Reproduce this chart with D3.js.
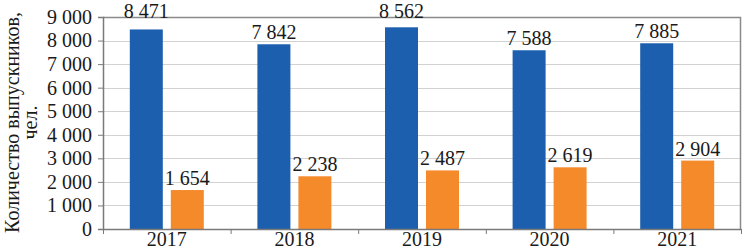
<!DOCTYPE html>
<html>
<head>
<meta charset="utf-8">
<script src="https://cdn.jsdelivr.net/npm/d3@7"></script>
<style>
  html, body { margin: 0; padding: 0; background: #ffffff; }
  svg text { font-family: "Liberation Serif", "Times New Roman", "DejaVu Serif", serif; fill: #1a1a1a; }
</style>
</head>
<body>
<div id="chart"></div>
<script>
// Data
var years = ["2017", "2018", "2019", "2020", "2021"];
var seriesA = [8471, 7842, 8562, 7588, 7885];
var seriesB = [1654, 2238, 2487, 2619, 2904];
var yTicks = [0, 1000, 2000, 3000, 4000, 5000, 6000, 7000, 8000, 9000];

var width = 744, height = 251;
var margin = { top: 17, right: 2, bottom: 22, left: 103 };
var fontSize = '20px';
var serif = '"Liberation Serif", "Times New Roman", serif';

var svg = d3.select('#chart').append('svg')
    .attr('width', width)
    .attr('height', height);

var x = d3.scaleBand()
    .domain(years)
    .range([margin.left, width - margin.right - 1])
    .paddingInner(0)
    .paddingOuter(0);

var y = d3.scaleLinear()
    .domain([0, 9000])
    .range([height - margin.bottom, margin.top]);

var fmt = function(v) { return d3.format(',')(v).replace(/,/g, ' '); };

// Gridlines
svg.append('g').selectAll('line')
    .data(yTicks.filter(function(d) { return d > 0 && d < 9000; }))
    .enter().append('line')
    .attr('x1', margin.left).attr('x2', x.range()[1])
    .attr('y1', function(d) { return Math.round(y(d)) + 0.5; })
    .attr('y2', function(d) { return Math.round(y(d)) + 0.5; })
    .attr('stroke', '#d2d2d2')
    .attr('stroke-width', 1);

// Plot border top & right
svg.append('path')
    .attr('d', 'M' + margin.left + ',' + (Math.round(y(9000)) + 0.5) +
               'H' + (x.range()[1] - 0.5) + 'V' + y(0))
    .attr('fill', 'none')
    .attr('stroke', '#8a8a8a')
    .attr('stroke-width', 1.5);

// Bars
var barW = 33, gap = 8;
var groups = svg.append('g').selectAll('g')
    .data(years)
    .enter().append('g')
    .attr('transform', function(d) { return 'translate(' + x(d) + ',0)'; });

var offset = (x.bandwidth() - (barW * 2 + gap)) / 2;

groups.append('rect')
    .attr('x', offset)
    .attr('width', barW)
    .attr('y', function(d, i) { return y(seriesA[i]); })
    .attr('height', function(d, i) { return y(0) - y(seriesA[i]); })
    .attr('fill', '#1c5fae');

groups.append('rect')
    .attr('x', offset + barW + gap)
    .attr('width', barW)
    .attr('y', function(d, i) { return y(seriesB[i]); })
    .attr('height', function(d, i) { return y(0) - y(seriesB[i]); })
    .attr('fill', '#f58a2b');

// label baseline: just above bar, lifted over the top border if it would collide
function labelY(v) {
    var b = y(v) - 5;
    if (b - 13 < y(9000) + 2) b = 18;
    return b;
}

groups.append('text')
    .attr('x', offset + barW / 2)
    .attr('y', function(d, i) { return labelY(seriesA[i]); })
    .attr('text-anchor', 'middle')
    .style('font-size', fontSize)
    .text(function(d, i) { return fmt(seriesA[i]); });

groups.append('text')
    .attr('x', offset + barW + gap + barW / 2)
    .attr('y', function(d, i) { return labelY(seriesB[i]); })
    .attr('text-anchor', 'middle')
    .style('font-size', fontSize)
    .text(function(d, i) { return fmt(seriesB[i]); });

// Y axis
var yAxis = svg.append('g')
    .attr('transform', 'translate(' + margin.left + ',0)')
    .call(d3.axisLeft(y).tickValues(yTicks).tickSize(5).tickPadding(6).tickFormat(fmt));
yAxis.select('.domain').attr('stroke', '#7a7a7a').attr('stroke-width', 1.5);
yAxis.selectAll('.tick line').attr('stroke', '#7a7a7a');
yAxis.selectAll('.tick text')
    .style('font-size', fontSize)
    .style('font-family', serif)
    .attr('fill', '#1a1a1a');

// X axis
var xAxis = svg.append('g')
    .attr('transform', 'translate(0,' + y(0) + ')')
    .call(d3.axisBottom(x).tickSize(0).tickPadding(3));
xAxis.select('.domain').attr('stroke', '#7a7a7a').attr('stroke-width', 1.5);
xAxis.selectAll('.tick text')
    .style('font-size', fontSize)
    .style('font-family', serif)
    .attr('fill', '#1a1a1a');

// Category boundary ticks
svg.append('g').selectAll('line')
    .data(years.concat(['end']))
    .enter().append('line')
    .attr('x1', function(d, i) { return (i < years.length ? x(d) : x.range()[1]) + 0.5; })
    .attr('x2', function(d, i) { return (i < years.length ? x(d) : x.range()[1]) + 0.5; })
    .attr('y1', y(0))
    .attr('y2', y(0) + 5)
    .attr('stroke', '#7a7a7a');

// Y axis title
var title = svg.append('text')
    .attr('transform', 'translate(19,' + (height / 2 - 3) + ') rotate(-90)')
    .attr('text-anchor', 'middle')
    .style('font-size', fontSize);
title.append('tspan').attr('x', 0).attr('dy', 0).text('Количество выпускников,');
title.append('tspan').attr('x', 0).attr('dy', 18).text('чел.');
</script>
</body>
</html>
